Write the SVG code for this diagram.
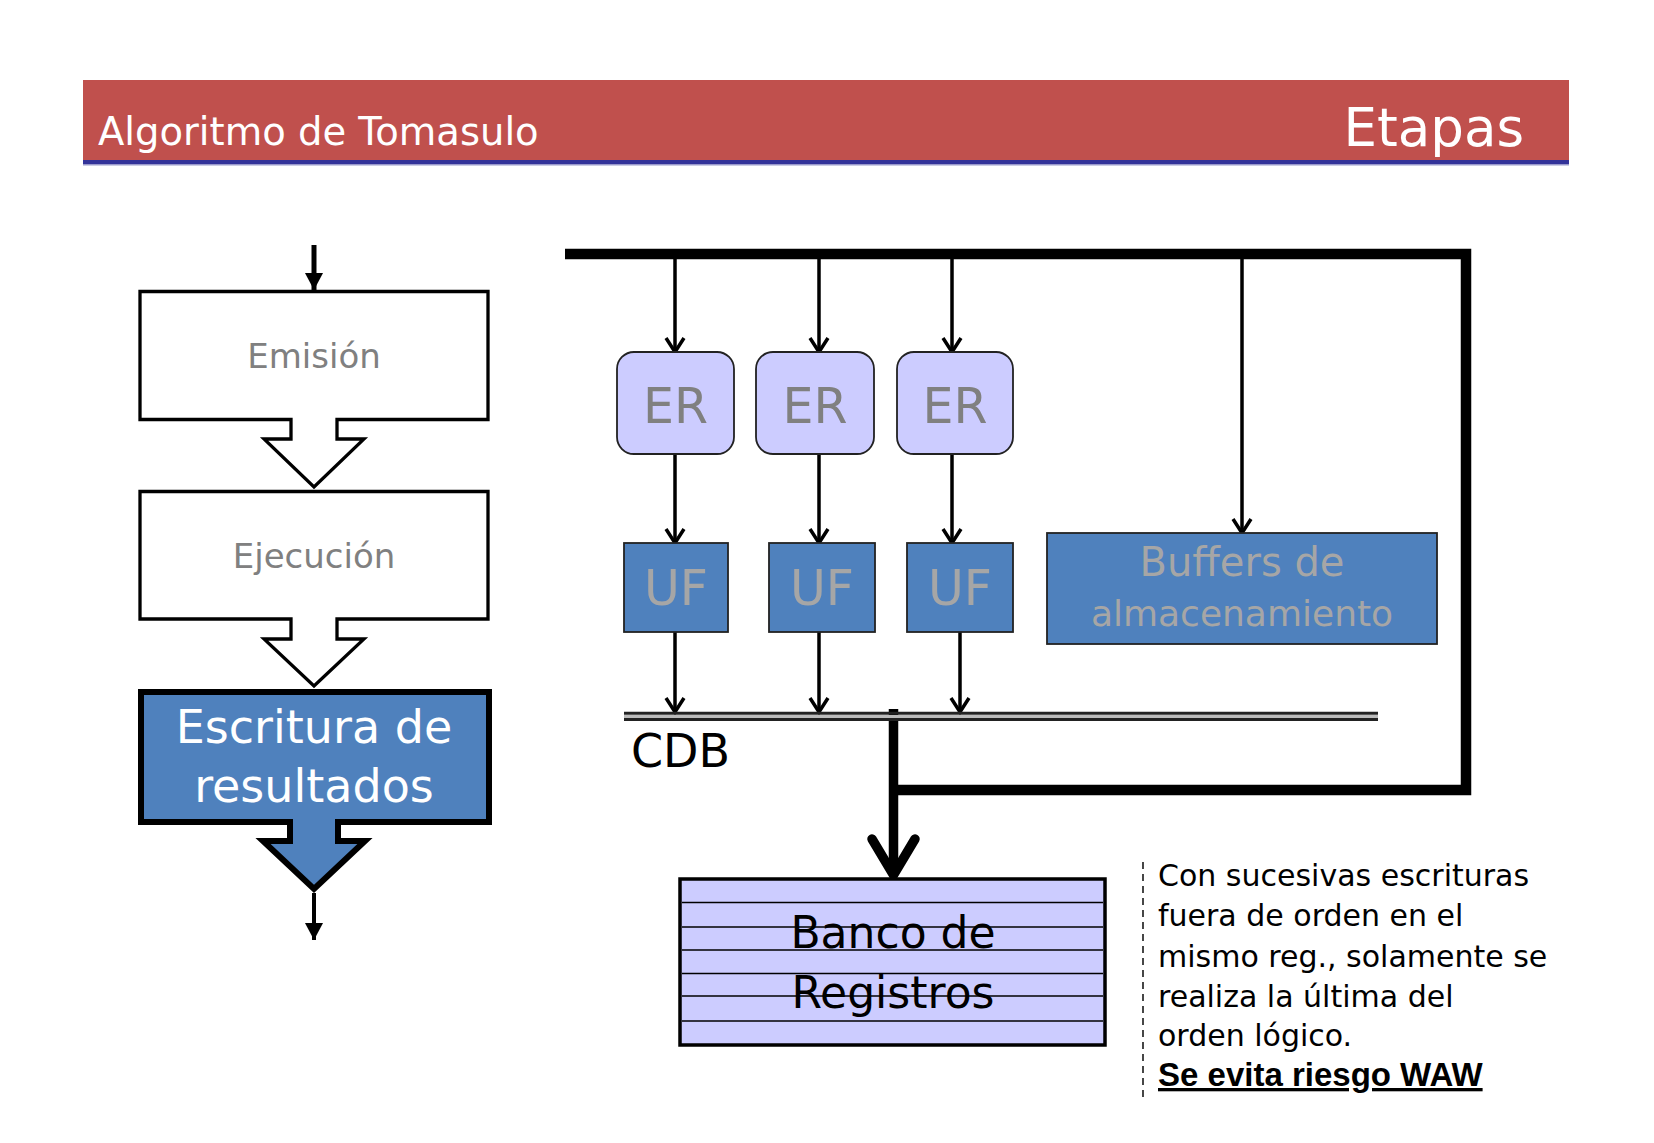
<svg xmlns="http://www.w3.org/2000/svg" width="1654" height="1143" viewBox="0 0 1654 1143">
<style>
.f{font-family:"DejaVu Sans","Noto Sans",sans-serif}
.wire{stroke:#000;stroke-width:3.5;fill:none}
.bus{stroke:#000;fill:none;stroke-linejoin:miter}
.stage{fill:#fff;stroke:#000;stroke-width:3.3;stroke-linejoin:miter}
.er{fill:#CCCCFF;stroke:#222;stroke-width:1.8}
.uf{fill:#4F81BD;stroke:#222;stroke-width:1.8}
.gt{fill:#808080}
.lt{fill:#A6A6A6}
</style>
<defs>
<marker id="chev" markerUnits="userSpaceOnUse" viewBox="-16 -12 20 24" refX="0" refY="0" markerWidth="20" markerHeight="24" orient="auto" overflow="visible">
<path d="M-14,-9 L0,0 L-14,9" fill="none" stroke="#000" stroke-width="3.5" stroke-linejoin="miter"/>
</marker>
<marker id="tri" markerUnits="userSpaceOnUse" viewBox="-18 -10 20 20" refX="0" refY="0" markerWidth="20" markerHeight="20" orient="auto" overflow="visible">
<path d="M-17,-9 L0,0 L-17,9 Z" fill="#000"/>
</marker>
</defs>
<rect width="1654" height="1143" fill="#fff"/>
<g id="header">
<rect x="83" y="80" width="1486" height="80" fill="#C0504D"/>
<rect x="83" y="160" width="1486" height="4" fill="#333399"/>
<rect x="83" y="164" width="1486" height="1.5" fill="#9999CC"/>
<text class="f" x="98" y="145" font-size="38.5" fill="#fff">Algoritmo de Tomasulo</text>
<text class="f" x="1524" y="146" font-size="53" fill="#fff" text-anchor="end">Etapas</text>
</g>
<g id="connectors">
<line x1="314" y1="245" x2="314" y2="290" stroke="#000" stroke-width="5" marker-end="url(#tri)"/>
<line x1="314" y1="893" x2="314" y2="940" stroke="#000" stroke-width="4" marker-end="url(#tri)"/>
<path class="bus" d="M565,254 H1466 V790 H893" stroke-width="10.5"/>
<line class="wire" x1="675" y1="257" x2="675" y2="352" marker-end="url(#chev)"/>
<line class="wire" x1="819" y1="257" x2="819" y2="352" marker-end="url(#chev)"/>
<line class="wire" x1="952" y1="257" x2="952" y2="352" marker-end="url(#chev)"/>
<line class="wire" x1="1242" y1="257" x2="1242" y2="533" marker-end="url(#chev)"/>
<line class="wire" x1="675" y1="454" x2="675" y2="543" marker-end="url(#chev)"/>
<line class="wire" x1="819" y1="454" x2="819" y2="543" marker-end="url(#chev)"/>
<line class="wire" x1="952" y1="454" x2="952" y2="543" marker-end="url(#chev)"/>
<line class="wire" x1="675" y1="632" x2="675" y2="712" marker-end="url(#chev)"/>
<line class="wire" x1="819" y1="632" x2="819" y2="712" marker-end="url(#chev)"/>
<line class="wire" x1="960" y1="632" x2="960" y2="712" marker-end="url(#chev)"/>
<line x1="893.5" y1="709" x2="893.5" y2="874" stroke="#000" stroke-width="9.5"/>
<path d="M872,839 L893.5,875 L915,839" fill="none" stroke="#000" stroke-width="9.5" stroke-linecap="round" stroke-linejoin="miter"/>
</g>
<g id="emision">
<path class="stage" d="M140,291.5 H488 V419.5 H337 V439 H364 L314,487 L264,439 H291 V419.5 H140 Z"/>
<text class="f gt" x="314" y="368" font-size="34" text-anchor="middle">Emisión</text>
</g>
<g id="ejecucion">
<path class="stage" d="M140,491.5 H488 V619 H337 V639 H364 L314,686 L264,639 H291 V619 H140 Z"/>
<text class="f gt" x="314" y="568" font-size="34" text-anchor="middle">Ejecución</text>
</g>
<g id="escritura">
<path d="M141,692 H489 V822 H338 V841 H365 L314,889 L263,841 H290 V822 H141 Z" fill="#4F81BD" stroke="#000" stroke-width="6" stroke-linejoin="miter"/>
<text class="f" x="314" y="743" font-size="46" fill="#fff" text-anchor="middle">Escritura de</text>
<text class="f" x="314" y="802" font-size="46" fill="#fff" text-anchor="middle">resultados</text>
</g>
<g id="er1">
<rect class="er" x="617" y="352" width="117" height="102" rx="17"/>
<text class="f gt" x="675.5" y="423" font-size="49" text-anchor="middle">ER</text>
</g>
<g id="er2">
<rect class="er" x="756" y="352" width="118" height="102" rx="17"/>
<text class="f gt" x="815" y="423" font-size="49" text-anchor="middle">ER</text>
</g>
<g id="er3">
<rect class="er" x="897" y="352" width="116" height="102" rx="17"/>
<text class="f gt" x="955" y="423" font-size="49" text-anchor="middle">ER</text>
</g>
<g id="uf1">
<rect class="uf" x="624" y="543" width="104" height="89"/>
<text class="f lt" x="676" y="605" font-size="49" text-anchor="middle">UF</text>
</g>
<g id="uf2">
<rect class="uf" x="769" y="543" width="106" height="89"/>
<text class="f lt" x="822" y="605" font-size="49" text-anchor="middle">UF</text>
</g>
<g id="uf3">
<rect class="uf" x="907" y="543" width="106" height="89"/>
<text class="f lt" x="960" y="605" font-size="49" text-anchor="middle">UF</text>
</g>
<g id="buffers">
<rect class="uf" x="1047" y="533" width="390" height="111"/>
<text class="f lt" x="1242" y="576" font-size="40" text-anchor="middle">Buffers de</text>
<text class="f lt" x="1242" y="626" font-size="36" text-anchor="middle">almacenamiento</text>
</g>
<g id="cdb">
<line x1="624" y1="716.5" x2="1378" y2="716.5" stroke="#BBBBBB" stroke-width="3"/>
<line x1="624" y1="713.3" x2="1378" y2="713.3" stroke="#222" stroke-width="3"/>
<line x1="624" y1="719.5" x2="1378" y2="719.5" stroke="#222" stroke-width="3"/>
<text class="f" x="631" y="767" font-size="46" fill="#000">CDB</text>
</g>
<g id="banco">
<rect x="680" y="879" width="425" height="166" fill="#CCCCFF" stroke="#000" stroke-width="3.5"/>
<g stroke="#000" stroke-width="1.5">
<line x1="682" y1="902.5" x2="1103" y2="902.5"/>
<line x1="682" y1="927" x2="1103" y2="927"/>
<line x1="682" y1="950" x2="1103" y2="950"/>
<line x1="682" y1="973.5" x2="1103" y2="973.5"/>
<line x1="682" y1="996" x2="1103" y2="996"/>
<line x1="682" y1="1021" x2="1103" y2="1021"/>
</g>
<text class="f" x="893" y="948" font-size="44" fill="#000" text-anchor="middle">Banco de</text>
<text class="f" x="893" y="1008" font-size="44" fill="#000" text-anchor="middle">Registros</text>
</g>
<g id="nota">
<line x1="1143" y1="862" x2="1143" y2="1102" stroke="#333" stroke-width="1.8" stroke-dasharray="7,5"/>
<text class="f" font-size="30" fill="#000">
<tspan x="1158" y="886">Con sucesivas escrituras</tspan>
<tspan x="1158" y="926">fuera de orden en el</tspan>
<tspan x="1158" y="967">mismo reg., solamente se</tspan>
<tspan x="1158" y="1007">realiza la última del</tspan>
<tspan x="1158" y="1046">orden lógico.</tspan>
</text>
<text x="1158" y="1086" font-family="'Liberation Sans',Arial,sans-serif" font-weight="bold" font-size="33" fill="#000" text-decoration="underline">Se evita riesgo WAW</text>
</g>
</svg>
